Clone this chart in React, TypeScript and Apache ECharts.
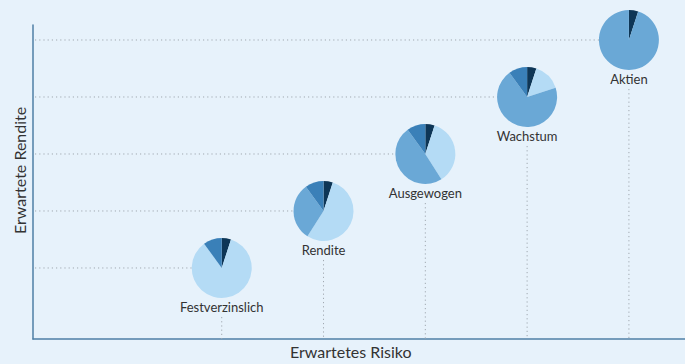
import React, { useEffect, useRef } from "react";
import * as echarts from "echarts";

const portfolios = ["Festverzinslich", "Rendite", "Ausgewogen", "Wachstum", "Aktien"];
const erwartetesRisiko = [1, 2, 3, 4, 5];
const erwarteteRendite = [1, 2, 3, 4, 5];
// slice shares (percent), clockwise from 12 o'clock
const anteilDunkel = [5, 5, 5, 5, 5];
const anteilHell = [85, 54, 36, 15, 0];
const anteilMittel = [0, 31, 49, 70, 95];
const anteilBlau = [10, 10, 10, 10, 0];

const sliceColors = ["#0e3656", "#b4dbf5", "#6aa8d6", "#3a80b8"];
const FONT = "Lato, 'Open Sans', sans-serif";

export default function App() {
  const ref = useRef<HTMLDivElement>(null);
  useEffect(() => {
    if (!ref.current) return;
    const chart = echarts.init(ref.current, null, { renderer: "svg" });
    const data = portfolios.map((_, i) => [erwartetesRisiko[i], erwarteteRendite[i], i]);
    const R = 30;
    const axisCommon = {
      type: "value",
      axisLine: { show: true, onZero: false, lineStyle: { color: "#4f7fa6", width: 1.5 } },
      axisTick: { show: false },
      axisLabel: { show: false },
      splitLine: { show: false },
    };
    const option: any = {
      animation: false,
      backgroundColor: "#e7f2fb",
      grid: { left: 33, right: 0, top: 25, bottom: 25 },
      xAxis: { ...axisCommon, min: -0.854, max: 5.551 },
      yAxis: { ...axisCommon, min: -0.246, max: 5.263 },
      graphic: [
        {
          type: "text",
          left: 290,
          top: 343,
          style: { text: "Erwartetes Risiko", font: `16px ${FONT}`, fill: "#333" },
        },
        {
          type: "text",
          x: 11,
          y: 234,
          rotation: Math.PI / 2,
          style: {
            text: "Erwartete Rendite",
            font: `16px ${FONT}`,
            fill: "#333",
            align: "left",
            verticalAlign: "top",
          },
        },
      ],
      series: [
        {
          type: "custom",
          data,
          clip: false,
          renderItem: (params: any, api: any) => {
            const idx = api.value(2);
            const pt = api.coord([api.value(0), api.value(1)]);
            const cs = params.coordSys;
            const children: any[] = [];
            const lineStyle = { stroke: "#a0a8b0", lineWidth: 1, lineDash: [1.2, 3] };
            children.push({
              type: "line",
              shape: { x1: cs.x + 2, y1: pt[1], x2: pt[0], y2: pt[1] },
              style: lineStyle,
            });
            children.push({
              type: "line",
              shape: { x1: pt[0], y1: pt[1] + R + 19, x2: pt[0], y2: cs.y + cs.height },
              style: lineStyle,
            });
            const shares = [anteilDunkel[idx], anteilHell[idx], anteilMittel[idx], anteilBlau[idx]];
            const total = shares.reduce((a, b) => a + b, 0);
            let acc = 0;
            shares.forEach((s, k) => {
              if (s <= 0) return;
              const a0 = -Math.PI / 2 + (acc / total) * Math.PI * 2;
              acc += s;
              const a1 = -Math.PI / 2 + (acc / total) * Math.PI * 2;
              children.push({
                type: "sector",
                shape: { cx: pt[0], cy: pt[1], r0: 0, r: R, startAngle: a0, endAngle: a1, clockwise: true },
                style: { fill: sliceColors[k] },
              });
            });
            children.push({
              type: "text",
              x: pt[0],
              y: pt[1] + R + 9,
              style: {
                text: portfolios[idx],
                font: `13px ${FONT}`,
                fill: "#333",
                align: "center",
                verticalAlign: "middle",
              },
            });
            return { type: "group", children };
          },
        },
      ],
    };
    chart.setOption(option);
    return () => chart.dispose();
  }, []);
  return (
    <div
      ref={ref}
      style={{ position: "fixed", left: 0, top: 0, width: 685, height: 364 }}
    />
  );
}
